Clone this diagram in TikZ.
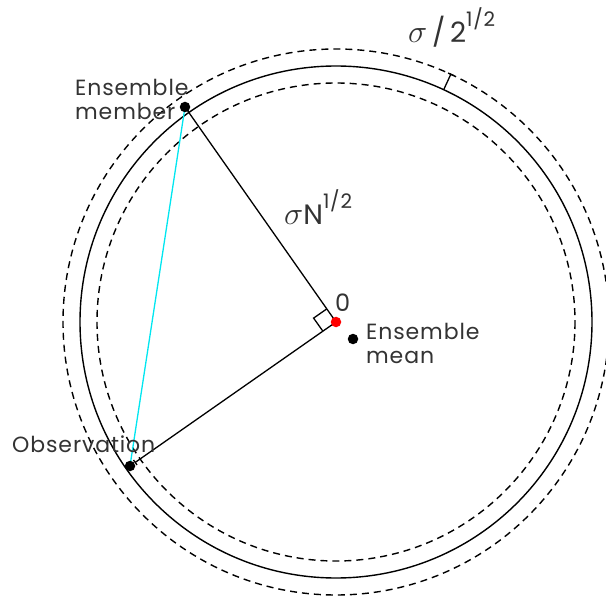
\documentclass[tikz,border=0pt]{standalone}
\usepackage{fontspec}
\setmainfont{Poppins}[LetterSpace=4]
\definecolor{cyanline}{RGB}{0,230,240}
\tikzset{
  circ/.style={line width=1.4pt},
  dcirc/.style={line width=1.4pt, dash pattern=on 7pt off 5pt},
  seg/.style={line width=1.3pt},
  lbl/.style={font=\fontsize{22}{26}\selectfont, inner sep=0pt, anchor=base west, text=black!80},
  big/.style={font=\fontsize{28}{32}\selectfont, inner sep=0pt, anchor=base west, text=black!80},
  dotb/.style={circle, fill=black, inner sep=0pt, minimum size=10.5pt},
}
\begin{document}
\begin{tikzpicture}[x=1pt,y=-1pt]
\useasboundingbox (0,0) rectangle (606,599);
\coordinate (C) at (336,322);
\coordinate (M) at (185,107);
\coordinate (O) at (130,466);
\coordinate (Oe) at (135.2,462.4);
\coordinate (Ob1) at (133.5,460.0);
\coordinate (Ob2) at (137.0,464.9);
\coordinate (S1) at (443.7,89.7);
\coordinate (S2) at (450.8,74.3);
\coordinate (Sb1) at (448.1,73.0);
\coordinate (Sb2) at (453.5,75.6);
\coordinate (P1) at (326.8,308.9);
\coordinate (P2) at (322.9,331.2);
\coordinate (P3) at (313.6,318.1);
% circles
\draw[circ] (C) circle[radius=256];
\draw[dcirc] (C) circle[radius=273];
\draw[dcirc] (C) circle[radius=239];
% radii
\draw[seg] (C) -- (M);
\draw[seg] (C) -- (Oe);
\draw[seg] (Ob1) -- (Ob2);
\draw[cyanline, line width=1.3pt] (M) -- (O);
% right angle
\draw[seg] (P1) -- (P3) -- (P2);
% sigma/sqrt2 marker
\draw[seg] (S1) -- (S2);
\draw[seg] (Sb1) -- (Sb2);
% dots
\node[dotb] (mdot) at (M) {};
\node[dotb] (odot) at (O) {};
\node[circle, fill=red, inner sep=0pt, minimum size=10.5pt] (zero) at (C) {};
\node[dotb] (edot) at (353,339) {};
% labels
\node[lbl, font=\fontsize{24}{26}\selectfont] (zl) at (335,312) {0};
\node[lbl] (em1) at (366,339) {Ensemble};
\node[lbl] (em2) at (366,363) {mean};
\node[lbl] (mm1) at (75,96) {Ensemble};
\node[lbl] (mm2) at (75,120) {member};
\node[lbl] (ol) at (12,452) {Observation};
\node[big] (snl) at (284,225) {\scalebox{1.3}{$\sigma$}N\raisebox{0.6em}{\fontsize{20}{22}\selectfont 1/2}};
\node[big] (s2l) at (408,43) {\scalebox{1.3}{$\sigma$}\,/\,2\raisebox{0.6em}{\fontsize{20}{22}\selectfont 1/2}};
\end{tikzpicture}
\end{document}
